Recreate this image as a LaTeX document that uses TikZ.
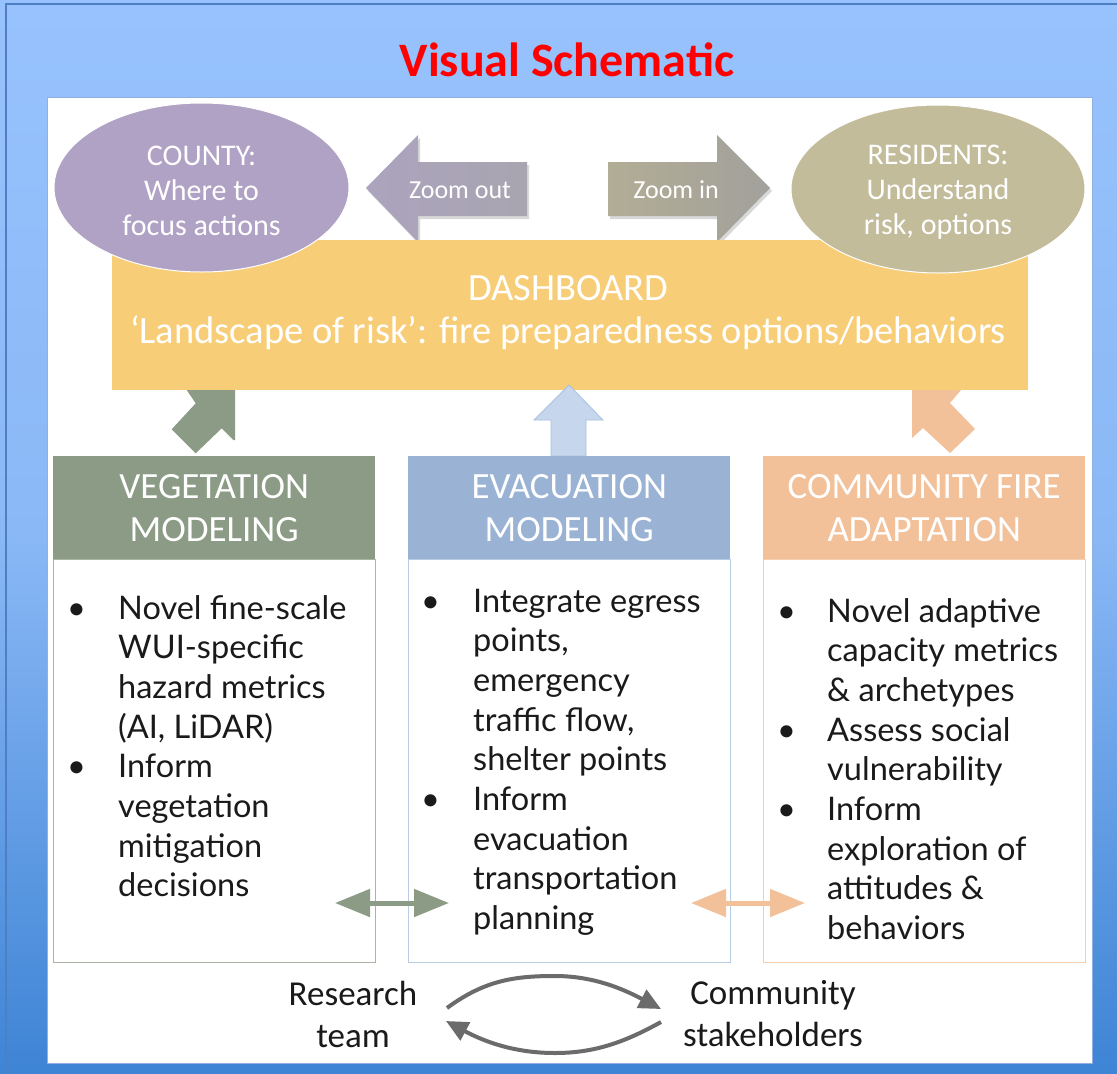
\documentclass[tikz,border=0pt]{standalone}
\usepackage{fontspec}
\setmainfont{Lato}
\newfontfamily\cf{Carlito}
\usetikzlibrary{arrows.meta,shapes.geometric,shadows}
\definecolor{bgtop}{HTML}{97C2FD}
\definecolor{bgmid}{HTML}{8AB8F6}
\definecolor{bgbot}{HTML}{3E84D5}
\definecolor{framec}{HTML}{4F7FC3}
\definecolor{panelb}{HTML}{8FB0E0}
\definecolor{purp}{HTML}{B0A2C4}
\definecolor{olive}{HTML}{C3BC9A}
\definecolor{zoL}{HTML}{ACA3BE}
\definecolor{zoR}{HTML}{A8A5B0}
\definecolor{ziL}{HTML}{B2AD95}
\definecolor{ziR}{HTML}{A2A19C}
\definecolor{dash}{HTML}{F8CD78}
\definecolor{grn}{HTML}{8C9B85}
\definecolor{grnb}{HTML}{A9B4A3}
\definecolor{blu}{HTML}{9AB3D5}
\definecolor{blub}{HTML}{B8CCE4}
\definecolor{lblu}{HTML}{C6D7ED}
\definecolor{lblub}{HTML}{A9C1E2}
\definecolor{org}{HTML}{F2C199}
\definecolor{orgb}{HTML}{F5CFAF}
\definecolor{cgray}{HTML}{6B6B6B}
\definecolor{txt}{HTML}{1A1A1A}
\begin{document}
\begin{tikzpicture}[x=1pt,y=-1pt,
  ell/.style={ellipse,draw=white,line width=1pt,inner sep=0pt},
  elltxt/.style={text=white,align=center,inner sep=0pt,font=\cf\fontsize{30}{35}\selectfont},
  hdr/.style={rectangle,inner sep=0pt,text=white,align=center,anchor=north west,
    minimum height=103pt,font=\cf\fontsize{37}{43}\selectfont},
  body/.style={rectangle,fill=white,line width=1pt,inner sep=0pt,anchor=north west,
    minimum height=403pt},
  blist/.style={anchor=base west,inner sep=0pt,text=txt,font=\fontsize{32.5}{39.7}\selectfont},
  ztxt/.style={text=white,font=\cf\fontsize{26}{30}\selectfont,inner sep=0pt},
  btxt/.style={text=txt,align=center,font=\cf\fontsize{35}{42}\selectfont,inner sep=0pt},
  dbl/.style={line width=5pt,{Triangle[length=35pt,width=27pt]}-{Triangle[length=35pt,width=27pt]}},
  cyc/.style={line width=4pt,draw=cgray,-{Triangle[length=22pt,width=20pt]}},
  shad/.style={drop shadow={shadow xshift=2pt,shadow yshift=-3pt,opacity=0.3}}
]
\useasboundingbox (0,0) rectangle (1117,1074);
% background
\shade[top color=bgtop,bottom color=bgbot,middle color=bgmid] (0,0) rectangle (1117,1074);
\draw[framec,line width=2pt] (6,1074) -- (6,4) -- (1117,4);
\fill[white,draw=panelb,line width=0.8pt] (47,97) rectangle (1092,1063);
% title
\node[font=\cf\bfseries\fontsize{48}{50}\selectfont,text=red,anchor=base,inner sep=0pt] (title) at (567,76) {Visual Schematic};
% zoom arrows
\path[shad,left color=zoL,right color=zoR] (366,188) -- (418,135) -- (418,162) -- (527,162) -- (527,216) -- (418,216) -- (418,242) -- cycle;
\path[shad,left color=ziL,right color=ziR] (770,188) -- (717,135) -- (717,162) -- (608,162) -- (608,216) -- (717,216) -- (717,242) -- cycle;
\node[ztxt] (zout) at (460,190) {Zoom out};
\node[ztxt] (zin) at (676,190) {Zoom in};
% dashboard
\node[rectangle,fill=dash,inner sep=0pt,anchor=north west,minimum width=916pt,minimum height=150pt] (dashb) at (112,240) {};
\node[text=white,align=center,inner sep=0pt,font=\cf\fontsize{38.5}{43}\selectfont] (dtxt) at (568,313) {DASHBOARD\\‘Landscape of risk’: fire preparedness options/behaviors};
% ellipses
\node[ell,fill=purp,minimum width=295pt,minimum height=169pt] (county) at (201.5,187.5) {};
\node[elltxt] (countyt) at ([yshift=-3pt]county.center) {COUNTY:\\Where to\\focus actions};
\node[ell,fill=olive,minimum width=294pt,minimum height=168pt] (resid) at (938,189) {};
\node[elltxt] (residt) at ([yshift=-3pt]resid.center) {RESIDENTS:\\Understand\\risk, options};
% bent / up arrows
\fill[grn] (186.7,390) -- (195.7,403.3) -- (171.7,429.3) -- (195.7,453.3) -- (221.7,428.3) -- (233.3,440) -- (235,440) -- (235,390) -- cycle;
\fill[org] (912,390) -- (912,438) -- (923,428) -- (950,453) -- (975,429) -- (950,403) -- (961,390) -- cycle;
\filldraw[fill=lblu,draw=lblub,line width=0.8pt] (569,385) -- (603,420) -- (586,420) -- (586,456) -- (551,456) -- (551,420) -- (534,420) -- cycle;
% headers
\node[hdr,fill=grn,minimum width=322pt] (vegh) at (53,456) {VEGETATION\\MODELING};
\node[hdr,fill=blu,minimum width=322pt] (evah) at (408,456) {EVACUATION\\MODELING};
\node[hdr,fill=org,minimum width=322pt] (comh) at (763,456) {COMMUNITY FIRE\\ADAPTATION};
% bodies
\node[body,draw=grnb,minimum width=322pt] (vegb) at (53,559) {};
\node[body,draw=blub,minimum width=322pt] (evab) at (408,559) {};
\node[body,draw=orgb,minimum width=322pt] (comb) at (763,559) {};
% lists
\node[blist] (vegl) at (67,619) {\begin{tabular}[t]{@{}p{51pt}@{}l@{}}
•&Novel fine-scale\\ &WUI-specific\\ &hazard metrics\\ &(AI, LiDAR)\\
•&Inform\\ &vegetation\\ &mitigation\\ &decisions\end{tabular}};
\node[blist] (eval) at (421,612) {\begin{tabular}[t]{@{}p{52pt}@{}l@{}}
•&Integrate egress\\ &points,\\ &emergency\\ &traffic flow,\\ &shelter points\\
•&Inform\\ &evacuation\\ &transportation\\ &planning\end{tabular}};
\node[blist] (coml) at (777,622) {\begin{tabular}[t]{@{}p{50pt}@{}l@{}}
•&Novel adaptive\\ &capacity metrics\\ &\& archetypes\\
•&Assess social\\ &vulnerability\\
•&Inform\\ &exploration of\\ &attitudes \&\\ &behaviors\end{tabular}};
% double arrows
\coordinate (g1) at (335,903); \coordinate (g2) at (449,903);
\coordinate (o1) at (691,903); \coordinate (o2) at (805,903);
\draw[dbl,grn] (g1) -- (g2);
\draw[dbl,org] (o1) -- (o2);
% bottom cycle
\node[btxt] (research) at (353,1014) {Research\\team};
\node[btxt] (community) at (773,1014) {Community\\stakeholders};
\coordinate (t1) at (447,1008); \coordinate (t2) at (661,1009);
\coordinate (b1) at (661,1022); \coordinate (b2) at (446,1021);
\draw[cyc] (t1) .. controls (485,980) and (515,976) .. (555,976) .. controls (595,976) and (625,990) .. (t2);
\draw[cyc] (b1) .. controls (625,1042) and (595,1053) .. (555,1053) .. controls (515,1053) and (485,1042) .. (b2);
\end{tikzpicture}
\end{document}
